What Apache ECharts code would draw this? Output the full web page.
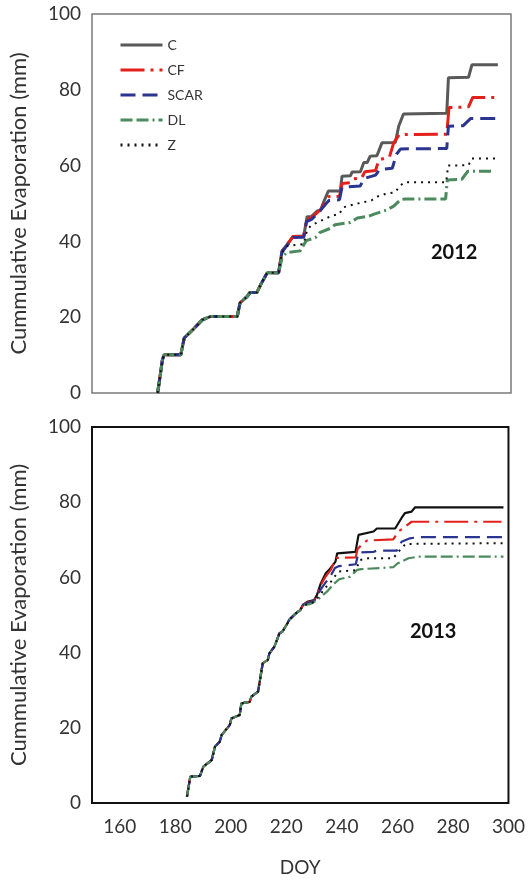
<!DOCTYPE html>
<html>
<head>
<meta charset="utf-8">
<script src="https://cdn.jsdelivr.net/npm/echarts@6/dist/echarts.min.js"></script>
<style>
  html, body { margin: 0; padding: 0; background: #fff; }
  #chart { width: 528px; height: 887px; }
</style>
</head>
<body>
<div id="chart"></div>
<script>
// Treatments shown in both panels
const treatments = ['C', 'CF', 'SCAR', 'DL', 'Z'];

// Axis ticks
const xTickLabels = [160, 180, 200, 220, 240, 260, 280, 300];
const yTickLabels = [0, 20, 40, 60, 80, 100];

// ---- 2012: cumulative evaporation (mm) vs day of year, [DOY, mm] ----
// All treatments share the same trace until about DOY 217
const shared2012 = [
  [173.5, 0], [175.2, 8.7], [175.8, 10.1], [181.8, 10.1], [183, 14.5], [186.5, 17],
  [189.5, 19.3], [192.5, 20.2], [202, 20.2], [203, 23.8], [205.6, 25.5], [206.5, 26.5],
  [209, 26.5], [210.4, 28.6], [212.7, 31.7], [216.8, 31.7]
];
const c2012 = shared2012.concat([
  [218, 37.4], [219.9, 39.2], [222, 41.3], [225.8, 41.4], [227, 46.5], [228.6, 46.6],
  [230.6, 48.0], [231.8, 48.2], [233, 50.5], [234.6, 53.3], [238.9, 53.3], [239.5, 57.2],
  [242.5, 57.3], [243.1, 58.3], [246.1, 58.4], [247.3, 60.8], [248.5, 60.8], [249.6, 62.5],
  [252, 62.6], [253.8, 66.0], [258.6, 66.1], [259.8, 70.4], [261.5, 73.6], [277, 73.8],
  [277.6, 83.2], [284.8, 83.3], [286, 86.6], [295.3, 86.6]
]);
const cf2012 = shared2012.concat([
  [218, 37.4], [219.9, 39.2], [222, 41.3], [225.8, 41.3], [226.8, 45.9], [228.6, 46.3],
  [230.6, 47.6], [232, 48.5], [233.6, 50.6], [234.6, 51.8], [238.6, 51.9], [239.5, 55.3],
  [242.5, 55.5], [243.5, 56.5], [246.5, 56.7], [247.7, 58.4], [251.5, 58.7], [252.7, 61.5],
  [256.5, 62.3], [258, 66], [260, 68.2], [277, 68.3], [277.8, 75.3], [284.8, 75.5],
  [286.3, 78], [295.3, 78]
]);
const scar2012 = shared2012.concat([
  [218, 37.2], [219.9, 39], [222, 41], [225.8, 41.1], [226.8, 45.2], [228.6, 45.8],
  [230.6, 47.2], [233.6, 49.8], [234.8, 50.8], [238.6, 51], [239.5, 54.3], [246, 54.6],
  [247.5, 56.6], [251.5, 57.5], [253, 59], [257.5, 59.3], [259, 63], [260.5, 64.4],
  [277, 64.5], [277.6, 70.4], [282.8, 70.5], [285.5, 72.4], [295.3, 72.4]
]);
const dl2012 = shared2012.concat([
  [218, 35.5], [219.5, 37], [224.5, 37.5], [226.7, 40.2], [230, 41], [231.5, 42.3],
  [235.5, 43.5], [237, 44.4], [242.5, 45], [245, 46.2], [249, 46.6], [251, 47.2],
  [255.5, 48.3], [258, 49.3], [260.5, 51], [262, 51.2], [276.6, 51.2], [277.2, 56.2],
  [282.4, 56.4], [284.5, 58.5], [294.3, 58.5]
]);
const z2012 = shared2012.concat([
  [218, 37], [219.9, 38.8], [225.8, 39.3], [227, 43], [228.6, 44.3], [233, 45.8],
  [236, 46.8], [238.5, 47.2], [240, 49], [244, 49.8], [247, 50.3], [250, 50.8],
  [252, 51.8], [255, 52.5], [258.6, 53], [260.4, 54.8], [262, 55.6], [276.8, 55.6],
  [277.5, 60], [284.8, 60.1], [286, 61.9], [294.5, 61.9]
]);

// ---- 2013 ----
const shared2013 = [
  [184.2, 1.7], [185.4, 7], [188.9, 7.2], [190.1, 9.7], [193.1, 11.4], [194.3, 15],
  [196, 16.3], [196.7, 18.1], [199.6, 20.7], [200.2, 22.5], [203.2, 23.4], [203.8, 26.5],
  [206.8, 26.9], [207.4, 28.3], [209.8, 29.6], [210.9, 34.5], [211.5, 37.2], [213.3, 38],
  [213.9, 39.8], [215.7, 41.6], [217.5, 45.1], [218.6, 45.6], [220.4, 47.8], [221, 48.7],
  [223.5, 50.5], [225, 51.3], [226, 52.7]
];
const c2013 = shared2013.concat([
  [227.5, 53.5], [230, 54], [231, 55.3], [232.4, 58.4], [234.2, 61.1], [235.4, 62],
  [237.7, 64.2], [238.3, 66.4], [244.9, 66.8], [246, 71.3], [251.4, 72.2], [252.6, 73],
  [259.2, 73], [261.5, 75.8], [262.7, 77.1], [265.1, 77.5], [266.3, 78.6], [298.2, 78.6]
]);
const cf2013 = shared2013.concat([
  [227.5, 53.3], [230, 53.8], [231, 55], [232.4, 58], [234.2, 60.3], [236, 62],
  [238, 65.2], [245, 65.3], [245.6, 67.5], [246.5, 68.2], [249, 69.8], [258.5, 70.1],
  [260.4, 72.2], [265.1, 74.8], [297.5, 74.8]
]);
const scar2013 = shared2013.concat([
  [227.5, 53.2], [230, 53.7], [231, 55.1], [233, 57.5], [234.5, 59], [236, 60.5],
  [237.5, 62.5], [239, 63], [245, 63.5], [246, 66.6], [251.5, 66.8], [252.5, 67.1],
  [259.8, 67.1], [261.5, 69.5], [264.5, 70.4], [267.5, 70.7], [298.2, 70.7]
]);
const dl2013 = shared2013.concat([
  [228, 52.8], [229.5, 53.2], [232, 54.5], [235, 56.5], [237, 58.2], [239, 59.5],
  [243, 60.2], [245.5, 62], [247, 62.2], [258.5, 62.7], [260, 63.7], [264, 65.1],
  [267.5, 65.5], [298.2, 65.5]
]);
const z2013 = shared2013.concat([
  [227.5, 52.8], [230, 53.5], [232, 55.2], [234, 57.2], [236, 58.8], [238, 60.8],
  [239, 61.6], [245, 61.9], [246.5, 64.6], [249.5, 65.1], [258.5, 65.1], [261.5, 67.8],
  [263, 68.9], [298.2, 69.1]
]);

// Line appearance per treatment
const styles = {
  C:    { color2012: '#595959', color2013: '#111111', dash: 'solid' },
  CF:   { color2012: '#e3211c', color2013: '#e3211c', dash: [24, 6, 3, 6] },
  SCAR: { color2012: '#2b3590', color2013: '#2b3590', dash: [15, 7] },
  DL:   { color2012: '#4b8a5d', color2013: '#4b8a5d', dash: [12, 4, 12, 4, 2, 4] },
  Z:    { color2012: '#111111', color2013: '#111111', dash: [2, 5] }
};

const data2012 = { C: c2012, CF: cf2012, SCAR: scar2012, DL: dl2012, Z: z2012 };
const data2013 = { C: c2013, CF: cf2013, SCAR: scar2013, DL: dl2013, Z: z2013 };

const FONT = 'Lato, "Open Sans", sans-serif';

function makeSeries(year, idx, dataMap, width) {
  return treatments.map(name => ({
    type: 'line',
    name: name,
    xAxisIndex: idx,
    yAxisIndex: idx,
    data: dataMap[name],
    symbol: 'none',
    lineStyle: {
      color: styles[name]['color' + year],
      width: name === 'Z' ? 2 : width,
      type: styles[name].dash
    },
    itemStyle: { color: styles[name]['color' + year] }
  }));
}

function xAxisFor(idx, showLabels) {
  return {
    gridIndex: idx,
    type: 'value',
    min: 150, max: 300, interval: 10,
    axisLine: { show: false },
    axisTick: { show: false },
    splitLine: { show: false },
    axisLabel: {
      show: showLabels,
      margin: 14,
      fontSize: 19,
      fontFamily: FONT,
      color: '#333',
      formatter: v => (xTickLabels.indexOf(v) >= 0 ? String(v) : '')
    },
    name: showLabels ? 'DOY' : '',
    nameLocation: 'middle',
    nameGap: 55,
    nameTextStyle: { fontSize: 19, fontFamily: FONT, color: '#333' }
  };
}

function yAxisFor(idx) {
  return {
    gridIndex: idx,
    type: 'value',
    min: 0, max: 100, interval: 20,
    axisLine: { show: false },
    axisTick: { show: false },
    splitLine: { show: false },
    axisLabel: {
      margin: 11,
      fontSize: 19,
      fontFamily: FONT,
      color: '#333',
      formatter: v => (yTickLabels.indexOf(v) >= 0 ? String(v) : '')
    },
    name: 'Cummulative Evaporation (mm)',
    nameLocation: 'middle',
    nameGap: 62,
    nameTextStyle: { fontSize: 22, fontFamily: FONT, color: '#333' }
  };
}

const chart = echarts.init(document.getElementById('chart'), null, { renderer: 'canvas' });
chart.setOption({
  animation: false,
  backgroundColor: '#fff',
  grid: [
    { left: 91, top: 14, width: 420, height: 379, show: true, borderColor: '#7a7a7a', borderWidth: 1.5 },
    { left: 91, top: 427, width: 420, height: 376, show: true, borderColor: '#111', borderWidth: 2 }
  ],
  xAxis: [xAxisFor(0, false), xAxisFor(1, true)],
  yAxis: [yAxisFor(0), yAxisFor(1)],
  legend: {
    data: treatments,
    orient: 'vertical',
    left: 114,
    top: 33,
    itemWidth: 42,
    itemHeight: 14,
    itemGap: 11,
    selectedMode: false,
    itemStyle: { opacity: 0 },
    lineStyle: { width: 3 },
    textStyle: { fontSize: 14, fontFamily: FONT, color: '#333' }
  },
  graphic: [
    { type: 'text', left: 431, top: 243, style: { text: '2012', font: 'bold 20px ' + FONT, fill: '#111' } },
    { type: 'text', left: 410, top: 622, style: { text: '2013', font: 'bold 20px ' + FONT, fill: '#111' } }
  ],
  series: makeSeries(2012, 0, data2012, 3).concat(makeSeries(2013, 1, data2013, 2.2))
});
</script>
</body>
</html>
